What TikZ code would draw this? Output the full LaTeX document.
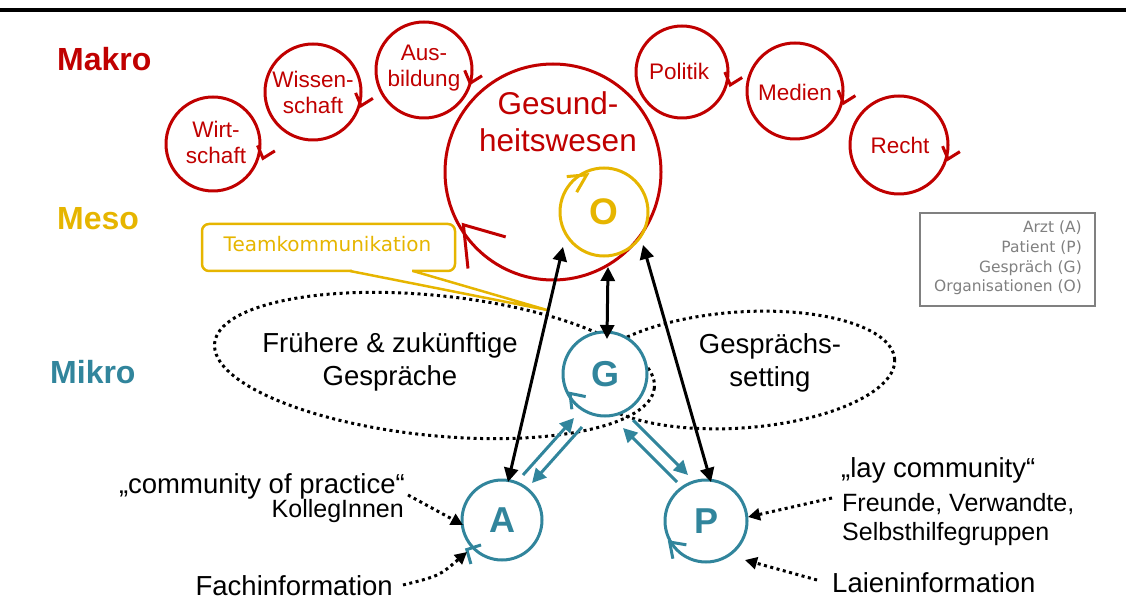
\documentclass[tikz,border=0pt]{standalone}
\usepackage{fontspec}
\setmainfont{Liberation Sans}
\newfontfamily\lgfont{DejaVu Sans}
\usetikzlibrary{arrows.meta,calc}
\definecolor{myred}{RGB}{192,0,0}
\definecolor{myyel}{RGB}{230,181,0}
\definecolor{myteal}{RGB}{49,133,156}
\definecolor{mygray}{RGB}{128,128,128}
\newcommand\vhead[7]{\path ($(#2)+(#3:#4)$) coordinate (vt);\draw[#1] (vt) ++(#5:#7) -- (vt) -- ++(#6:#7);}
\tikzset{
 mcirc/.style={circle, draw=myred, line width=3pt, inner sep=0pt},
 mtext/.style={text=myred, align=center, font=\fontsize{22.5}{26}\selectfont, inner sep=0pt},
 lvl/.style={font=\fontsize{32}{38}\selectfont\bfseries, anchor=base west, inner sep=0pt},
 tcirc/.style={circle, draw=myteal, fill=white, line width=3pt, inner sep=0pt, text=myteal, font=\fontsize{36}{40}\selectfont\bfseries},
 bodytxt/.style={font=\fontsize{27.5}{33}\selectfont, inner sep=0pt},
 subtxt/.style={font=\fontsize{25}{29}\selectfont, inner sep=0pt},
 blk/.style={line width=3pt, {Triangle[width=14pt,length=14pt]}-{Triangle[width=14pt,length=14pt]}},
 tl/.style={draw=myteal, line width=3pt, -{Triangle[width=14pt,length=14pt]}},
 dotline/.style={line width=3pt, dash pattern=on 3pt off 3.5pt},
 dotarr/.style={dotline, -{Triangle[width=12pt,length=12pt]}},
 redv/.style={draw=myred, line width=3pt},
 yelv/.style={draw=myyel, line width=3pt},
 tealv/.style={draw=myteal, line width=3pt},
}
\begin{document}
\begin{tikzpicture}[x=1pt,y=-1pt]
\useasboundingbox (0,0) rectangle (1137,609);
% top rule
\coordinate (tl1) at (0,10);
\coordinate (tl2) at (1126,10);
\draw[line width=3.5pt] (tl1) -- (tl2);

% level labels
\node[lvl, text=myred] (makro) at (57,71) {Makro};
\node[lvl, text=myyel] (meso) at (57,230) {Meso};
\node[lvl, text=myteal] (mikro) at (50,383) {Mikro};

% macro circles
\node[mcirc, minimum size=94] (wirt) at (213,144) {};
\node[mtext] (wirtT) at (216,142) {Wirt-\\schaft};
\node[mcirc, minimum size=96] (wiss) at (313,92) {};
\node[mtext] (wissT) at (313,92) {Wissen-\\schaft};
\node[mcirc, minimum size=96] (ausb) at (424,70) {};
\node[mtext] (ausbT) at (424,68) {Aus-\\bildung};
\node[mcirc, minimum size=92] (pol) at (682,72) {};
\node[mtext] (polT) at (679,71) {Politik};
\node[mcirc, minimum size=96] (med) at (795,91) {};
\node[mtext] (medT) at (795,92) {Medien};
\node[mcirc, minimum size=98] (recht) at (899,145) {};
\node[mtext] (rechtT) at (900,145) {Recht};
\vhead{redv}{wirt}{16}{52}{247}{328}{14}
\vhead{redv}{wiss}{16}{50}{247}{328}{14}
\vhead{redv}{ausb}{16}{48}{247}{328}{14}
\vhead{redv}{pol}{15}{50}{247}{328}{14}
\vhead{redv}{med}{14}{50}{247}{328}{14}
\vhead{redv}{recht}{16}{51}{247}{328}{14}

% Gesundheitswesen
\node[mcirc, minimum size=216] (ges) at (553,172) {};
\node[text=myred, align=center, font=\fontsize{31.5}{37}\selectfont, inner sep=0pt] (gesT) at (558,122) {Gesund-\\heitswesen};
\vhead{redv}{ges}{149.5}{104}{84}{16}{44}

% O
\node[circle, draw=myyel, line width=3pt, minimum size=88, inner sep=0pt, text=myyel, font=\fontsize{37}{40}\selectfont\bfseries] (o) at (604,212) {O};
\vhead{yelv}{o}{245}{41}{175}{120}{20}

% legend
\node[draw=mygray, line width=1.2pt, minimum width=175, minimum height=93, inner sep=0pt] (leg) at (1007.5,259.5) {};
\node[anchor=east, align=right, text=mygray, font=\lgfont\fontsize{15.5}{19.7}\selectfont, inner sep=0pt] (legT) at (1082,258) {Arzt (A)\\Patient (P)\\Gespräch (G)\\Organisationen (O)};

% dotted ellipses
\draw[dotline, rotate around={-5.8:(434.5,365.5)}] (434.5,365.5) ellipse [x radius=221, y radius=70];
\draw[dotline, rotate around={4:(740,370)}] (740,370) ellipse [x radius=155, y radius=58];
\node[bodytxt, align=center] (frueh) at (390,362) {Frühere \& zukünftige\\Gespräche};
\node[bodytxt, align=center] (sett) at (770,363) {Gesprächs-\\setting};

% callout
\node[draw=myyel, line width=2.5pt, rounded corners=7pt, minimum width=253, minimum height=47, inner sep=0pt] (team) at (328.5,247.5) {};
\node[text=myyel, font=\lgfont\fontsize{20}{24}\selectfont, inner sep=0pt] (teamT) at (327.5,244.5) {Teamkommunikation};
\coordinate (tailA) at (350,271);
\coordinate (tailB) at (413,271);
\coordinate (tailtip) at (547,310);
\fill[white] (351.5,268.5) rectangle (411.5,273.5);
\draw[myyel, line width=2.5pt] (tailA) -- (tailtip) -- (tailB);

% micro circles
\node[tcirc, minimum size=84] (g) at (605,374) {G};
\node[tcirc, minimum size=80] (a) at (502,520) {A};
\node[tcirc, minimum size=82] (p) at (706,521) {P};
\vhead{tealv}{g}{151}{40}{11.5}{83.5}{16}
\vhead{tealv}{a}{140}{46}{342}{74}{15}
\vhead{tealv}{p}{150}{42}{9.5}{79}{17}

% black arrows
\draw[blk] ($(o)+(-41,35)$) -- ($(a)+(6,-38)$);
\draw[blk] ($(o)+(4,55)$) -- ($(g)+(2,-35)$);
\draw[blk] ($(o)+(39,33)$) -- ($(p)+(5,-39)$);

% teal arrows
\draw[tl] ($(a)+(21,-45)$) -- ($(g)+(-31,44)$);
\draw[tl] ($(g)+(-23,53)$) -- ($(a)+(30,-37)$);
\draw[tl] ($(p)+(-29,-39)$) -- ($(g)+(18,54)$);
\draw[tl] ($(g)+(28,46)$) -- ($(p)+(-18,-46)$);

% outer texts
\node[bodytxt, anchor=base east] (comm1) at (405,493) {„community of practice“};
\node[subtxt, anchor=base east] (comm2) at (404,517) {KollegInnen};
\node[bodytxt, anchor=base east] (fach) at (393,595) {Fachinformation};
\node[bodytxt, anchor=base west] (lay1) at (841,477) {„lay community“};
\node[subtxt, anchor=base west] (lay2) at (842,511) {Freunde, Verwandte,};
\node[subtxt, anchor=base west] (lay3) at (842,540) {Selbsthilfegruppen};
\node[bodytxt, anchor=base west] (laien) at (832,592) {Laieninformation};

% dotted arrows
\coordinate (fachc) at (439,576);
\draw[dotarr] ($(comm1.base east)+(3,2)$) -- ($(a)+(-39,5)$);
\draw[dotarr] ($(fach.base east)+(10,-10)$) .. controls (fachc) .. ($(a)+(-35,32)$);
\draw[dotarr] ($(lay2.base west)+(-10,-13)$) -- ($(p)+(42,-4)$);
\draw[dotarr] ($(laien.base west)+(-15,-12)$) -- ($(p)+(39,39)$);
\end{tikzpicture}
\end{document}
